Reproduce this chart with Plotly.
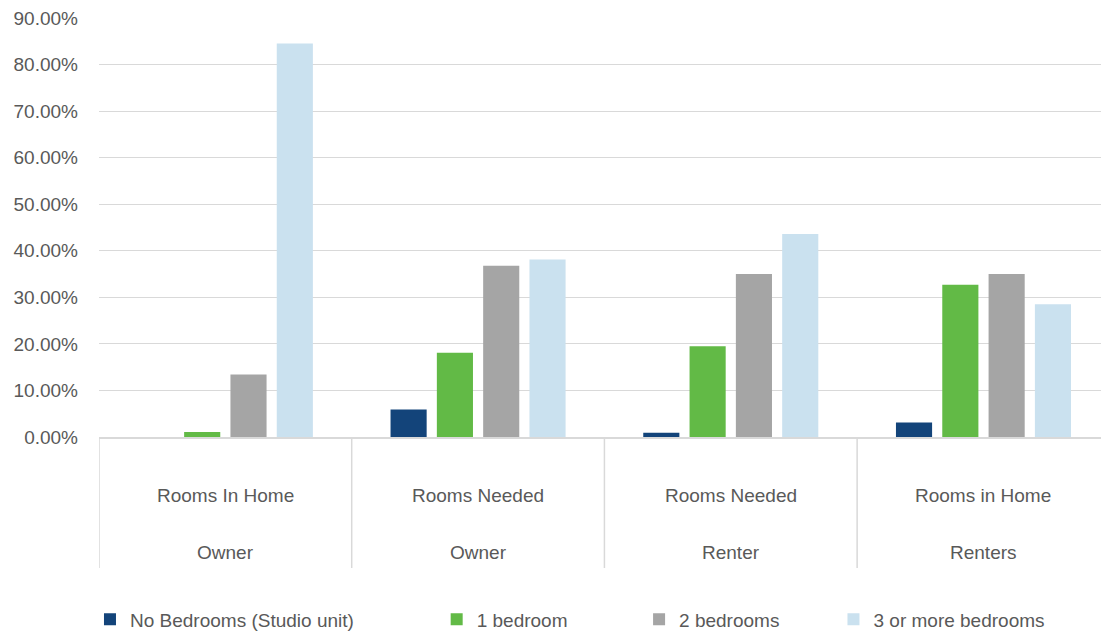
import plotly.graph_objects as go

# ---- data ----
top_labels = ["Rooms In Home", "Rooms Needed", "Rooms Needed", "Rooms in Home"]
bottom_labels = ["Owner", "Owner", "Renter", "Renters"]
categories = [f"{b} | {t} | {i}" for i, (t, b) in enumerate(zip(top_labels, bottom_labels))]

series_names = ["No Bedrooms (Studio unit)", "1 bedroom", "2 bedrooms", "3 or more bedrooms"]
studio = [0.0, 0.059, 0.009, 0.031]
one_bed = [0.011, 0.181, 0.195, 0.327]
two_bed = [0.134, 0.368, 0.350, 0.350]
three_plus = [0.845, 0.381, 0.436, 0.285]
series_values = [studio, one_bed, two_bed, three_plus]
series_colors = ["#13447A", "#62BA46", "#A5A5A5", "#CAE1EF"]

y_ticks = [i / 10 for i in range(10)]

FONT = "Liberation Sans, Arial, sans-serif"
TXT = "#595959"

fig = go.Figure()
legend_ids = ["legend", "legend2", "legend3", "legend4"]
for name, vals, col, lg in zip(series_names, series_values, series_colors, legend_ids):
    fig.add_trace(go.Bar(
        x=categories, y=vals, name=name,
        marker=dict(color=col, line=dict(width=0)),
        legend=lg, showlegend=True,
    ))

legend_x = [-0.009, 0.337, 0.539, 0.733]
legend_common = dict(orientation="h", y=-0.4356, yanchor="middle", xanchor="left",
                     font=dict(family=FONT, size=19, color=TXT), bgcolor="rgba(0,0,0,0)")
layout_legends = {}
for lg, lx in zip(legend_ids, legend_x):
    layout_legends[lg] = dict(x=lx, **legend_common)

fig.update_layout(
    width=1101, height=632,
    margin=dict(l=99, r=0, t=18, b=195, autoexpand=False),
    paper_bgcolor="white", plot_bgcolor="white",
    barmode="group", bargap=0.267, bargroupgap=0.22,
    font=dict(family=FONT, size=19, color=TXT),
    **layout_legends,
)

fig.update_xaxes(
    type="category", categoryorder="array", categoryarray=categories,
    range=[-0.5, 3.465], showticklabels=False, ticks="",
    showgrid=False, showline=True, linecolor="#D9D9D9", linewidth=2,
    zeroline=False, fixedrange=True, automargin=False,
)
fig.update_yaxes(
    range=[0, 0.9], tickvals=y_ticks, tickformat=".2%",
    showgrid=True, gridcolor="#D9D9D9", gridwidth=1,
    zeroline=False, showline=False, ticks="",
    ticklabelstandoff=20, automargin=False,
    tickfont=dict(family=FONT, size=19, color=TXT),
)

# category separators (axis decoration)
for i in range(len(categories)):
    fig.add_shape(type="line", xref="x", yref="paper",
                  x0=i - 0.5, x1=i - 0.5, y0=0, y1=-0.3126,
                  line=dict(color="#D9D9D9", width=1.5))

# two-level category labels
for i, (t, b) in enumerate(zip(top_labels, bottom_labels)):
    fig.add_annotation(x=categories[i], y=-0.1408, xref="x", yref="paper",
                       text=t, showarrow=False, yanchor="middle",
                       font=dict(family=FONT, size=19, color=TXT))
    fig.add_annotation(x=categories[i], y=-0.2768, xref="x", yref="paper",
                       text=b, showarrow=False, yanchor="middle",
                       font=dict(family=FONT, size=19, color=TXT))

fig.write_html(
    "out.html",
    config={"displayModeBar": False},
    post_script="document.body.style.margin='0';document.body.style.overflow='hidden';",
)
